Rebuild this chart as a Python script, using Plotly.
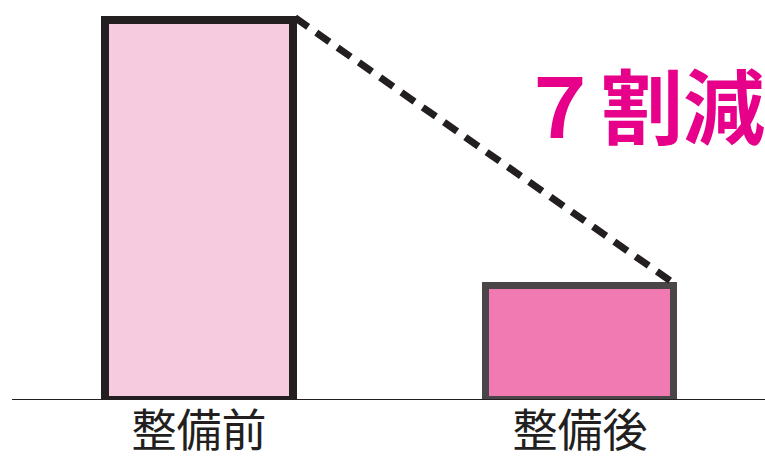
import plotly.graph_objects as go

categories = ["整備前", "整備後"]
values = [100, 30]
fill_colors = ["#f6cbe0", "#f07ab1"]
line_colors = ["#231f20", "#4a4546"]
line_widths = [8, 7]
annotation_text = "７割減"

xpos = [0, 1]
bar_w = 0.494

fig = go.Figure()
fig.add_trace(go.Bar(
    x=xpos, y=values, width=bar_w,
    marker=dict(color=fill_colors, line=dict(color=line_colors, width=line_widths)),
    hoverinfo="skip",
))
# dashed connector between right top corners
fig.add_trace(go.Scatter(
    x=[xpos[0] + bar_w / 2 + 0.005, xpos[1] + bar_w / 2 + 0.005],
    y=[values[0] + 0.6, values[1] + 0.3],
    mode="lines",
    line=dict(color="#231f20", width=7, dash="16px,10px"),
    hoverinfo="skip",
))
fig.add_shape(type="line", xref="paper", yref="y", x0=12 / 765, x1=1, y0=0, y1=0,
              line=dict(color="#231f20", width=2))
fig.add_annotation(x=1.1627, y=78.2, xref="x", yref="y", text=annotation_text,
                   showarrow=False,
                   font=dict(family="Noto Sans CJK JP", size=82, color="#e6008a", weight="bold"))

fig.update_layout(
    width=765, height=461,
    margin=dict(l=0, r=0, t=0, b=61, autoexpand=False),
    paper_bgcolor="white", plot_bgcolor="white",
    showlegend=False,
    bargap=0,
    xaxis=dict(range=[-0.5223, 1.4856], tickvals=xpos, ticktext=categories,
               showgrid=False, zeroline=False, showline=False, ticks="",
               ticklabelstandoff=1, automargin=False,
               tickfont=dict(family="Noto Sans CJK JP", size=45, color="#231f20"),
               fixedrange=True),
    yaxis=dict(range=[0, 105.26], visible=False, fixedrange=True, automargin=False),
)
fig.write_html("out.html")
